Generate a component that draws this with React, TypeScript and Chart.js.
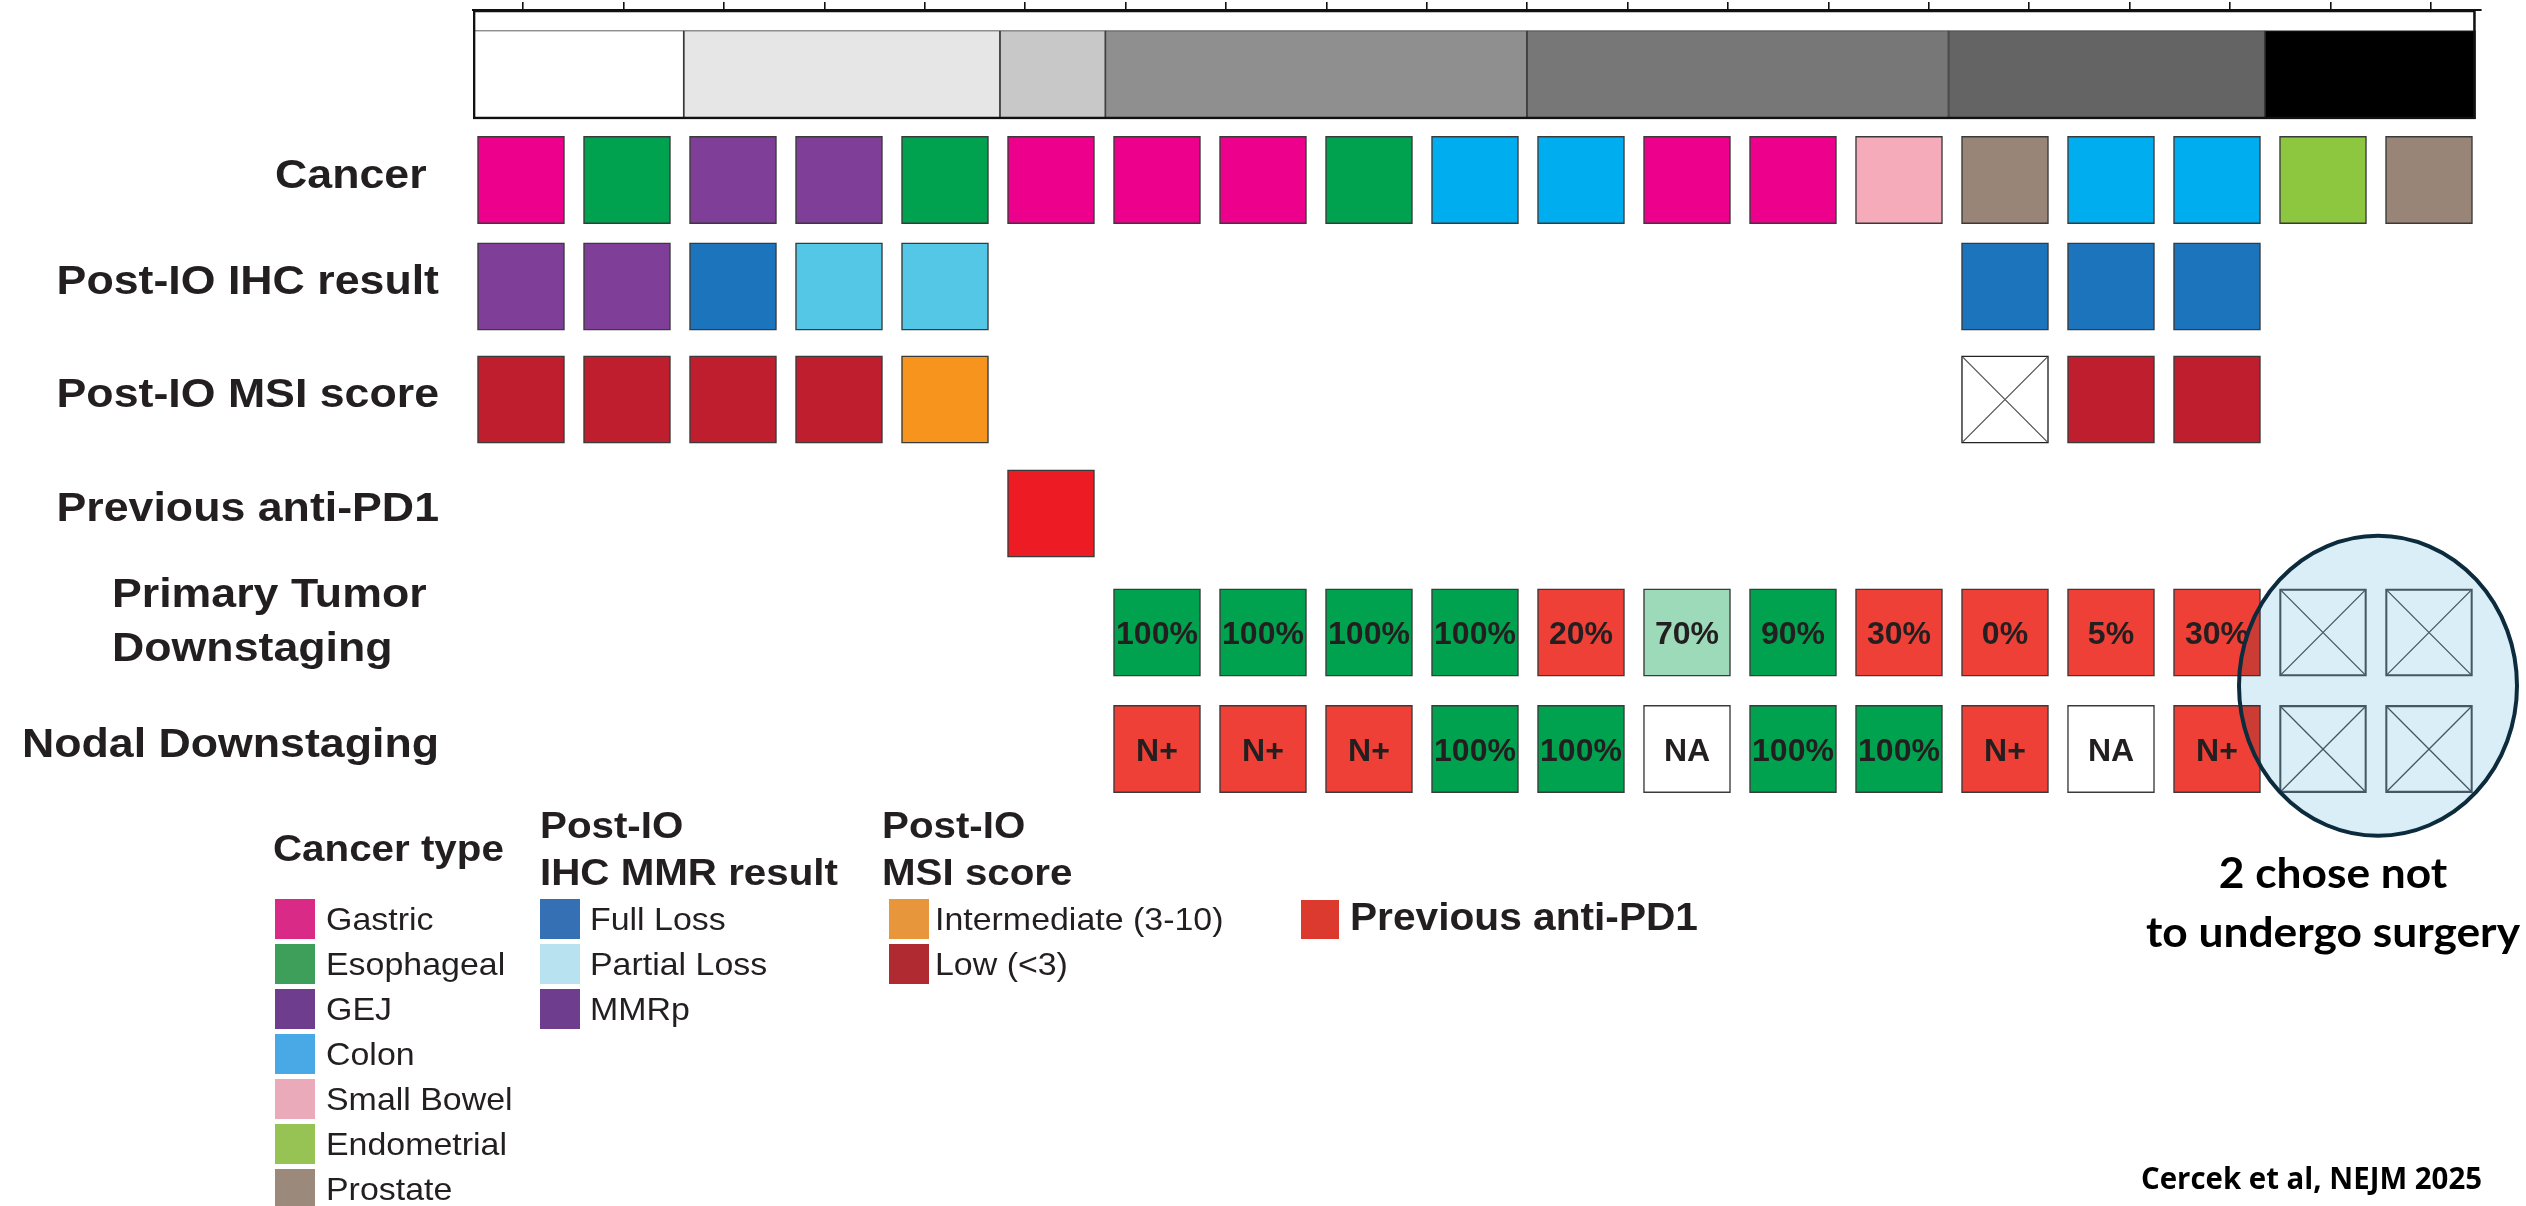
import React, { useEffect, useRef } from 'react';
import { Chart, registerables } from 'chart.js';

Chart.register(...registerables);

// ---------------- data ----------------
const patientIds = ['P1', 'P2', 'P3', 'P4', 'P5', 'P6', 'P7', 'P8', 'P9', 'P10', 'P11', 'P12', 'P13', 'P14', 'P15', 'P16', 'P17', 'P18', 'P19'];

// grey band on top: cohort level of each patient (1 = white ... 7 = black)
const cohortLevel = [1, 1, 2, 2, 2, 3, 4, 4, 4, 4, 5, 5, 5, 5, 6, 6, 6, 7, 7];
const cohortShades = ['#FFFFFF', '#E6E6E6', '#C8C8C8', '#8F8F8F', '#777777', '#646464', '#000000'];

const cancerType = ['Gastric', 'Esophageal', 'GEJ', 'GEJ', 'Esophageal', 'Gastric', 'Gastric', 'Gastric', 'Esophageal', 'Colon', 'Colon', 'Gastric', 'Gastric', 'Small Bowel', 'Prostate', 'Colon', 'Colon', 'Endometrial', 'Prostate'];
const ihcResult = ['MMRp', 'MMRp', 'Full Loss', 'Partial Loss', 'Partial Loss', null, null, null, null, null, null, null, null, null, 'Full Loss', 'Full Loss', 'Full Loss', null, null];
const msiScore = ['Low', 'Low', 'Low', 'Low', 'Intermediate', null, null, null, null, null, null, null, null, null, 'NE', 'Low', 'Low', null, null];
const previousAntiPD1 = [false, false, false, false, false, true, false, false, false, false, false, false, false, false, false, false, false, false, false];
const primaryTumorDownstaging = [null, null, null, null, null, null, 100, 100, 100, 100, 20, 70, 90, 30, 0, 5, 30, 'NS', 'NS'];
const nodalDownstaging = [null, null, null, null, null, null, 'N+', 'N+', 'N+', '100%', '100%', 'NA', '100%', '100%', 'N+', 'NA', 'N+', 'NS', 'NS'];

const rowLabels = ['Cancer ', 'Post-IO IHC result', 'Post-IO MSI score', 'Previous anti-PD1', ['Primary Tumor ', 'Downstaging'], 'Nodal Downstaging'];

const cancerColors = {
  Gastric: '#EC008C', Esophageal: '#00A14F', GEJ: '#7F3F98', Colon: '#00AEEF',
  'Small Bowel': '#F5ABB9', Endometrial: '#8DC63F', Prostate: '#998578',
};
const ihcColors = { 'Full Loss': '#1C75BC', 'Partial Loss': '#55C7E6', MMRp: '#7F3F98' };
const msiColors = { Intermediate: '#F7941D', Low: '#BE1E2D', NE: '#FFFFFF' };
const pd1Color = '#ED1C24';
const nodalColors = { 'N+': '#EE4036', '100%': '#00A14F', NA: '#FFFFFF' };

// legend
const legendCancerLabels = ['Gastric', 'Esophageal', 'GEJ', 'Colon', 'Small Bowel', 'Endometrial', 'Prostate'];
const legendCancerSwatches = ['#DA2A88', '#3E9F5B', '#6E3D8D', '#48A9E6', '#EAAAB9', '#97C355', '#9B897C'];
const legendIhcLabels = ['Full Loss', 'Partial Loss', 'MMRp'];
const legendIhcSwatches = ['#3670B4', '#B9E2F0', '#6E3D8D'];
const legendMsiLabels = ['Intermediate (3-10)', 'Low (<3)'];
const legendMsiSwatches = ['#E8963B', '#B02B31'];
const legendPd1Label = 'Previous anti-PD1';
const legendPd1Swatch = '#DC3A2E';

const noteLines = ['2 chose not', 'to undergo surgery'];
const citation = 'Cercek et al, NEJM 2025';

// ---------------- layout (row placement on the y scale) ----------------
const rowPlacement = [0, 0.933, 1.922, 2.92, 3.962, 4.983];
const labelShift = -7;

// ---------------- helpers ----------------
const FONT = '"Liberation Sans", Arial, Helvetica, sans-serif';
const INK = '#231F20';
const ROW_HALF = 0.382;
const CELL_PX = 87;

function primaryColor(v) {
  if (v >= 90) return '#00A14F';
  if (v >= 50) return '#9DDAB9';
  return '#EE4036';
}

function buildCells(row, values, colorFor, textFor) {
  const out = [];
  const c = rowPlacement[row];
  values.forEach((v, i) => {
    if (v === null || v === false || v === undefined) return;
    const crossed = v === 'NS' || v === 'NE';
    out.push({
      x: i,
      y: [c - ROW_HALF, c + ROW_HALF],
      color: v === 'NS' ? 'rgba(0,0,0,0)' : colorFor(v),
      text: crossed ? '' : textFor ? textFor(v) : '',
      crossed,
      edge: v === 'NS' ? '#4F5E66' : v === 'NE' ? '#222222' : '#3A3A3A',
      cross: v === 'NS' ? '#4F5E66' : '#555555',
    });
  });
  return out;
}

function cohortSegments() {
  const segs = [];
  let start = 0;
  for (let i = 1; i <= cohortLevel.length; i++) {
    if (i === cohortLevel.length || cohortLevel[i] !== cohortLevel[start]) {
      segs.push({ y: -0.9216, x: [start, i], color: cohortShades[cohortLevel[start] - 1] });
      start = i;
    }
  }
  return segs;
}

function drawText(ctx, text, x, y, font, color, sx, align) {
  ctx.save();
  ctx.font = font;
  ctx.fillStyle = color;
  ctx.textBaseline = 'alphabetic';
  ctx.textAlign = 'left';
  const w = ctx.measureText(text).width * sx;
  const left = align === 'right' ? x - w : align === 'center' ? x - w / 2 : x;
  ctx.translate(left, y);
  ctx.scale(sx, 1);
  ctx.fillText(text, 0, 0);
  ctx.restore();
}

const overlayPlugin = {
  id: 'overlay',
  afterDatasetsDraw(chart) {
    const ctx = chart.ctx;
    chart.data.datasets.forEach((ds, di) => {
      if (!ds.cellRow) return;
      const meta = chart.getDatasetMeta(di);
      meta.data.forEach((el, j) => {
        const raw = ds.data[j];
        const p = el.getProps(['x', 'y', 'base', 'width'], true);
        const left = p.x - p.width / 2;
        const right = p.x + p.width / 2;
        const top = Math.min(p.y, p.base);
        const bottom = Math.max(p.y, p.base);
        if (raw.crossed) {
          ctx.save();
          ctx.strokeStyle = raw.cross;
          ctx.lineWidth = 1.3;
          ctx.beginPath();
          ctx.moveTo(left + 1.5, top + 1.5);
          ctx.lineTo(right - 1.5, bottom - 1.5);
          ctx.moveTo(right - 1.5, top + 1.5);
          ctx.lineTo(left + 1.5, bottom - 1.5);
          ctx.stroke();
          ctx.restore();
        }
        if (raw.text) {
          drawText(ctx, raw.text, p.x, (top + bottom) / 2 + 0.358 * 32, `bold 32px ${FONT}`, INK, 1, 'center');
        }
      });
    });

    // circle around the patients who did not undergo surgery
    const xs = chart.scales.xc;
    const ys = chart.scales.y;
    const nsCols = [];
    primaryTumorDownstaging.forEach((v, i) => { if (v === 'NS') nsCols.push(i); });
    const cx = xs.getPixelForValue(nsCols.reduce((a, b) => a + b, 0) / nsCols.length);
    const cy = ys.getPixelForValue((rowPlacement[4] + rowPlacement[5]) / 2);
    ctx.save();
    ctx.beginPath();
    ctx.ellipse(cx + 2, cy - 5, 139, 150, 0, 0, Math.PI * 2);
    ctx.globalCompositeOperation = 'multiply';
    ctx.fillStyle = '#DAEEF7';
    ctx.fill();
    ctx.globalCompositeOperation = 'source-over';
    ctx.lineWidth = 4;
    ctx.strokeStyle = '#0C2B3C';
    ctx.stroke();
    ctx.restore();
  },
  afterDraw(chart) {
    const ctx = chart.ctx;
    const ys = chart.scales.y;
    const LABEL_RIGHT = 439;
    const lf = `bold 41px ${FONT}`;
    const lsx = 1.09;
    rowLabels.forEach((lab, k) => {
      const py = ys.getPixelForValue(rowPlacement[k]);
      if (Array.isArray(lab)) {
        ctx.save();
        ctx.font = lf;
        const maxW = Math.max(...lab.map((s) => ctx.measureText(s).width * lsx));
        ctx.restore();
        const left = LABEL_RIGHT - maxW;
        const mid0 = py - 13 - (lab.length - 1) * 27;
        lab.forEach((s, i) => drawText(ctx, s, left, mid0 + i * 54 + 0.358 * 41, lf, INK, lsx, 'left'));
      } else {
        drawText(ctx, lab, LABEL_RIGHT, py + labelShift + 0.358 * 41, lf, INK, lsx, 'right');
      }
    });

    // legend
    const tf = `bold 36px ${FONT}`;
    const tsx = 1.12;
    const itf = `32px ${FONT}`;
    const isx = 1.06;
    const top0 = 899;
    const pitch = 45;
    const sw = 40;
    drawText(ctx, 'Cancer type', 273, 861, tf, INK, tsx, 'left');
    drawText(ctx, 'Post-IO', 540, 838, tf, INK, tsx, 'left');
    drawText(ctx, 'IHC MMR result', 540, 885, tf, INK, tsx, 'left');
    drawText(ctx, 'Post-IO', 882, 838, tf, INK, tsx, 'left');
    drawText(ctx, 'MSI score', 882, 885, tf, INK, tsx, 'left');
    const column = (labels, swatches, sx0, tx0) => {
      labels.forEach((l, i) => {
        const y0 = top0 + i * pitch;
        ctx.fillStyle = swatches[i];
        ctx.fillRect(sx0, y0, sw, sw);
        drawText(ctx, l, tx0, y0 + sw / 2 + 0.358 * 32, itf, INK, isx, 'left');
      });
    };
    column(legendCancerLabels, legendCancerSwatches, 275, 326);
    column(legendIhcLabels, legendIhcSwatches, 540, 590);
    column(legendMsiLabels, legendMsiSwatches, 889, 935);
    ctx.fillStyle = legendPd1Swatch;
    ctx.fillRect(1301, 900, 38, 39);
    drawText(ctx, legendPd1Label, 1350, 930, `bold 38px ${FONT}`, INK, 1.07, 'left');

    // note under the circle
    const nf = 'bold 42px Lato, "Open Sans", sans-serif';
    ctx.save();
    ctx.font = nf;
    const nsx = 374 / ctx.measureText(noteLines[1]).width;
    ctx.restore();
    drawText(ctx, noteLines[0], 2333, 888, nf, '#000000', nsx, 'center');
    drawText(ctx, noteLines[1], 2333, 947, nf, '#000000', nsx, 'center');

    const cf = 'bold 30px "Open Sans", sans-serif';
    ctx.save();
    ctx.font = cf;
    const csx = 341 / ctx.measureText(citation).width;
    ctx.restore();
    drawText(ctx, citation, 2141, 1189, cf, '#000000', csx, 'left');
  },
};

export default function App() {
  const ref = useRef(null);
  useEffect(() => {
    const canvas = ref.current;
    if (!canvas) return;
    const cellDs = (label, data) => ({
      type: 'bar',
      label,
      data,
      cellRow: true,
      xAxisID: 'xc',
      yAxisID: 'y',
      grouped: false,
      barThickness: CELL_PX,
      backgroundColor: (c) => (c.raw ? c.raw.color : 'rgba(0,0,0,0)'),
      borderColor: (c) => (c.raw ? c.raw.edge : '#3A3A3A'),
      borderWidth: 1.5,
      borderSkipped: false,
      order: 2,
    });
    const chart = new Chart(canvas, {
      type: 'bar',
      data: {
        labels: patientIds,
        datasets: [
          {
            type: 'bar', label: 'frame', indexAxis: 'y', xAxisID: 'x2', yAxisID: 'y', grouped: false,
            data: [{ y: -1.0114, x: [0, patientIds.length] }], barThickness: 109,
            backgroundColor: 'rgba(0,0,0,0)', borderColor: '#111111', borderWidth: 2, borderSkipped: false, order: 0,
          },
          {
            type: 'bar', label: 'cohort', indexAxis: 'y', xAxisID: 'x2', yAxisID: 'y', grouped: false,
            data: cohortSegments(), barThickness: 88.5,
            backgroundColor: (c) => (c.raw ? c.raw.color : '#fff'), borderColor: '#3a3a3a', borderWidth: 1.2,
            borderSkipped: false, order: 1,
          },
          cellDs('Cancer', buildCells(0, cancerType, (v) => cancerColors[v])),
          cellDs('Post-IO IHC result', buildCells(1, ihcResult, (v) => ihcColors[v])),
          cellDs('Post-IO MSI score', buildCells(2, msiScore, (v) => msiColors[v])),
          cellDs('Previous anti-PD1', buildCells(3, previousAntiPD1, () => pd1Color)),
          cellDs('Primary Tumor Downstaging', buildCells(4, primaryTumorDownstaging, primaryColor, (v) => `${v}%`)),
          cellDs('Nodal Downstaging', buildCells(5, nodalDownstaging, (v) => nodalColors[v], (v) => v)),
        ],
      },
      options: {
        animation: false,
        responsive: false,
        devicePixelRatio: 1,
        events: [],
        layout: { padding: { left: 473, right: 45, top: 2, bottom: 397.9 } },
        plugins: { legend: { display: false }, tooltip: { enabled: false }, title: { display: false } },
        scales: {
          xt: {
            type: 'linear', axis: 'x', position: 'top', min: 0, max: 20, offset: false,
            ticks: { display: false, stepSize: 1, includeBounds: false },
            grid: { display: true, drawOnChartArea: false, drawTicks: true, tickLength: 8, color: '#111111', lineWidth: 1.6 },
            border: { display: true, color: '#111111', width: 2 },
          },
          x2: { type: 'linear', axis: 'x', display: false, min: 0, max: 19.052, offset: false },
          xc: { type: 'linear', axis: 'x', display: false, min: -0.4528, max: 18.4906, offset: false },
          y: { type: 'linear', axis: 'y', display: false, reverse: true, min: -1.4886, max: 5.5, offset: false },
        },
      },
      plugins: [overlayPlugin],
    });
    return () => chart.destroy();
  }, []);
  return (
    <div style={{ position: 'absolute', left: 0, top: 0, width: 2526, height: 1206, background: '#ffffff' }}>
      <canvas ref={ref} width={2526} height={1206} style={{ display: 'block', width: 2526, height: 1206 }} />
    </div>
  );
}
